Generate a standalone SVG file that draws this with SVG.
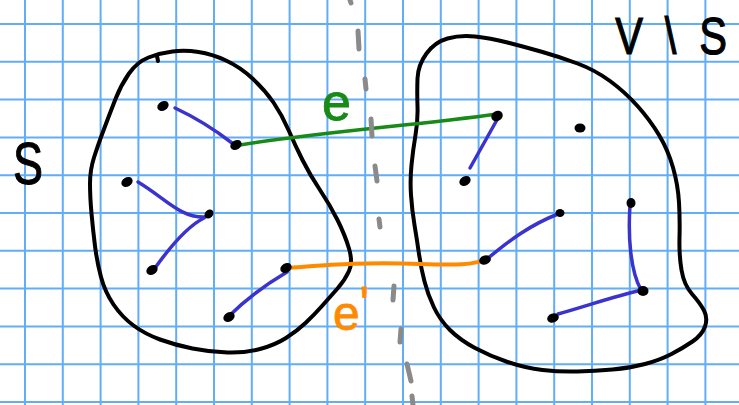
<svg xmlns="http://www.w3.org/2000/svg" width="739" height="405" viewBox="0 0 739 405">
<style>
.grid{stroke:#62adf7;stroke-width:2;fill:none}
.blob{stroke:#000;stroke-width:4;fill:none;stroke-linecap:round;stroke-linejoin:round}
.dot{fill:#000}
.blue{stroke:#3a33cc;stroke-width:3.5;fill:none;stroke-linecap:round}
.dash{stroke:#8a8a8a;stroke-width:5;stroke-linecap:round;fill:none}
.lbl{font-family:"Liberation Sans",Arial,sans-serif}
</style>
<rect width="739" height="405" fill="#fff"/>
<path class="grid" d="M25,0V405M62.8,0V405M100.6,0V405M138.4,0V405M176.2,0V405M214,0V405M251.8,0V405M289.6,0V405M327.4,0V405M365.2,0V405M403,0V405M440.8,0V405M478.6,0V405M516.4,0V405M554.2,0V405M592,0V405M629.8,0V405M667.6,0V405M705.4,0V405M0,24H739M0,61.8H739M0,99.6H739M0,137.4H739M0,175.2H739M0,213H739M0,250.8H739M0,288.6H739M0,326.4H739M0,364.2H739M0,402H739"/>
<g id="region-S">
<path class="blob" d="M 148.5,57.5 Q 160,53 172.5,51.5 Q 185,50 198.5,52 Q 212,54 226,60.5 Q 240,67 252.5,78.5 Q 265,90 273.5,102.5 Q 282,115 288.5,130 Q 295,145 302.5,160 Q 310,175 320,190 Q 330,205 337.5,220 Q 345,235 349,248.5 Q 353,262 349,271 Q 345,280 337.5,288.5 Q 330,297 322,306 Q 314,315 305.5,323 Q 297,331 286,338 Q 275,345 260,349 Q 245,353 227.5,352.5 Q 210,352 192.5,348.5 Q 175,345 160,339.5 Q 145,334 133.5,325.5 Q 122,317 113.5,304.5 Q 105,292 101,277 Q 97,262 95,246 Q 93,230 91.5,213.5 Q 90,197 90,183.5 Q 90,170 94,157.5 Q 98,145 104,129 Q 110,113 115.5,99 Q 121,85 129,73.5 Q 137,62 148.5,57.5 Z"/>
<path class="blob" d="M157,56L158,61"/>
</g>
<g id="region-VS">
<path class="blob" d="M 447.5,38.5 Q 460,35 475,36.5 Q 490,38 507.5,42.5 Q 525,47 542.5,52 Q 560,57 577.5,63.5 Q 595,70 610,81 Q 625,92 637.5,106 Q 650,120 659,135 Q 668,150 673,167.5 Q 678,185 679,202.5 Q 680,220 679.5,237.5 Q 679,255 681.5,270 Q 684,285 692,294 Q 700,303 704,310.5 Q 708,318 705,326.5 Q 702,335 692.5,341.5 Q 683,348 671.5,354 Q 660,360 645,364 Q 630,368 612.5,369.5 Q 595,371 577.5,371.5 Q 560,372 542.5,370 Q 525,368 507.5,362 Q 490,356 475,348 Q 460,340 450,330 Q 440,320 434,307.5 Q 428,295 424.5,281.5 Q 421,268 419,254 Q 417,240 414.5,225 Q 412,210 411,195 Q 410,180 411.5,165 Q 413,150 415.5,135 Q 418,120 417.5,106 Q 417,92 417.5,78.5 Q 418,65 426.5,53.5 Q 435,42 447.5,38.5 Z"/>
</g>
<g id="connectors">
<path class="blue" d="M175,108 Q205,122 232,143"/>
<path class="blue" d="M138,182 C165,198 180,218 205,217"/>
<path class="blue" d="M155,268 C175,240 190,225 204,218"/>
<path class="blue" d="M228,317 C245,300 265,285 287,272"/>
<path class="blue" d="M498,118 L470,168"/>
<path class="blue" d="M487,259 C510,240 530,225 558,214"/>
<path class="blue" d="M630,205 C628,235 630,270 641,290"/>
<path class="blue" d="M558,314 C590,305 615,296 642,290"/>
<path d="M240,145 C320,132 420,125 497,114" stroke="#178a17" stroke-width="3.5" fill="none" stroke-linecap="round"/>
<path d="M288,268 C330,265 360,262 420,264 S470,262 485,261" stroke="#ff8a00" stroke-width="4" fill="none" stroke-linecap="round"/>
</g>
<g id="n1"><ellipse class="dot" cx="163" cy="106" rx="6" ry="4.5" transform="rotate(-30 163 106)"/></g>
<g id="n2"><ellipse class="dot" cx="236" cy="145" rx="6" ry="4.5" transform="rotate(-30 236 145)"/></g>
<g id="n3"><ellipse class="dot" cx="127" cy="182" rx="6" ry="4.5" transform="rotate(-30 127 182)"/></g>
<g id="n4"><ellipse class="dot" cx="209" cy="214" rx="5" ry="4" transform="rotate(-45 209 214)"/></g>
<g id="n5"><ellipse class="dot" cx="152" cy="270" rx="6" ry="4.5" transform="rotate(-30 152 270)"/></g>
<g id="n6"><ellipse class="dot" cx="286" cy="268" rx="6" ry="4.5" transform="rotate(-30 286 268)"/></g>
<g id="n7"><ellipse class="dot" cx="229" cy="317" rx="6" ry="4.5" transform="rotate(-30 229 317)"/></g>
<g id="n8"><ellipse class="dot" cx="497" cy="116" rx="6" ry="5" transform="rotate(-30 497 116)"/></g>
<g id="n9"><ellipse class="dot" cx="580" cy="128" rx="5.5" ry="4.5"/></g>
<g id="n10"><ellipse class="dot" cx="465" cy="181" rx="6" ry="4.5" transform="rotate(-30 465 181)"/></g>
<g id="n11"><ellipse class="dot" cx="560" cy="213" rx="4.5" ry="4"/></g>
<g id="n12"><ellipse class="dot" cx="631" cy="203" rx="4.5" ry="5"/></g>
<g id="n13"><ellipse class="dot" cx="485" cy="260" rx="6" ry="4.5" transform="rotate(-20 485 260)"/></g>
<g id="n14"><ellipse class="dot" cx="643" cy="291" rx="5.5" ry="5"/></g>
<g id="n15"><ellipse class="dot" cx="553" cy="318" rx="6" ry="4.5" transform="rotate(-20 553 318)"/></g>
<g id="labels">
<text class="lbl" transform="translate(13,184) scale(0.75,1)" font-size="60" fill="#000" stroke="#000" stroke-width="1">S</text>
<text class="lbl" transform="translate(0,54) scale(0.8,1)" font-size="52" fill="#000" stroke="#000" stroke-width="1.2"><tspan x="769">V</tspan><tspan x="831">\</tspan><tspan x="874">S</tspan></text>
<text class="lbl" x="322" y="120" font-size="52" fill="#178a17" stroke="#178a17" stroke-width="0.8">e</text>
<text class="lbl" x="333" y="330" font-size="48" fill="#ff8a00" stroke="#ff8a00" stroke-width="0.8">e<tspan dy="-10">'</tspan></text>
</g>
<g id="divider">
<path class="dash" d="M350,0L351,3M358,31L359,49M365,79L366,89M371,119L372,136M375,166L377,181M379,219L380,227M394,286L393,300M401,329L400,342M407,364L411,381M412,396L413,405"/>
</g>
</svg>
